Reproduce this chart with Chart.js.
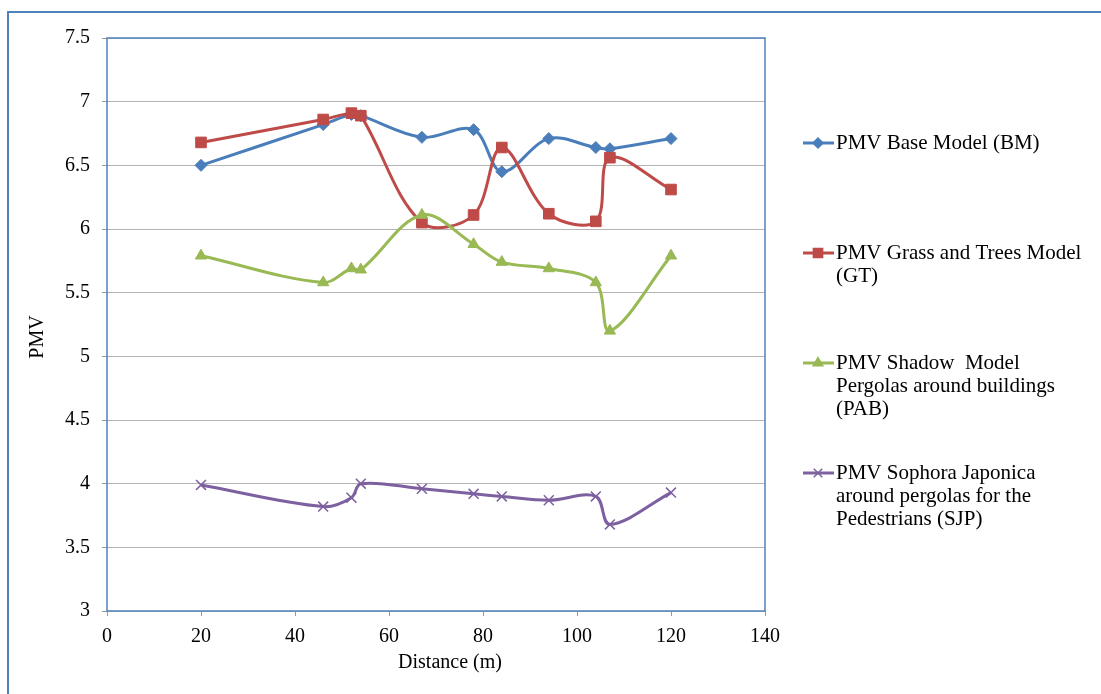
<!DOCTYPE html>
<html>
<head>
<meta charset="utf-8">
<script src="https://cdn.jsdelivr.net/npm/chart.js@4"></script>
<style>
  html, body { margin: 0; padding: 0; background: #fff; }
  #wrap { width: 1101px; height: 694px; position: relative; }
</style>
</head>
<body>
<div id="wrap"><canvas id="chart" width="1101" height="694"></canvas></div>
<script>
// Distances (m) along the path
const distance = [20, 46, 52, 54, 67, 78, 84, 94, 104, 107, 120]

// PMV per model
const pmvBM = [6.50, 6.82, 6.90, 6.89, 6.72, 6.78, 6.45, 6.71, 6.64, 6.63, 6.71]
const pmvGT = [6.68, 6.86, 6.91, 6.89, 6.05, 6.11, 6.64, 6.12, 6.06, 6.56, 6.31]
const pmvPAB = [5.79, 5.58, 5.69, 5.68, 6.11, 5.88, 5.74, 5.69, 5.58, 5.20, 5.79]
const pmvSJP = [3.99, 3.82, 3.89, 4.00, 3.96, 3.92, 3.90, 3.87, 3.90, 3.68, 3.93]

// Y tick labels as printed on the axis
const yTickLabels = ["3", "3.5", "4", "4.5", "5", "5.5", "6", "6.5", "7", "7.5"]

// Legend text, one array of lines per series
const legendLines = [
  ["PMV Base Model (BM)"],
  ["PMV Grass and Trees Model", "(GT)"],
  ["PMV Shadow  Model", "Pergolas around buildings", "(PAB)"],
  ["PMV Sophora Japonica", "around pergolas for the", "Pedestrians (SJP)"],
]
const legendY = [143, 253, 363, 473]

const FONT = "'Liberation Serif', 'Times New Roman', serif"
const COLORS = ["#4a7ebb", "#be4b48", "#98b954", "#7d60a0"]
const STYLES = ["rectRot", "rect", "triangle", "crossRot"]
const RADII = [6, 7.5, 6.5, 7]

function points(values) {
  return distance.map((x, i) => ({ x, y: values[i] }))
}

function makeSet(label, values, idx) {
  const cross = STYLES[idx] === "crossRot"
  return {
    label,
    data: points(values),
    borderColor: COLORS[idx],
    backgroundColor: COLORS[idx],
    borderWidth: 3,
    tension: 0.35,
    pointStyle: STYLES[idx],
    pointRadius: RADII[idx],
    pointBorderWidth: cross ? 1.5 : 1,
    pointBorderColor: COLORS[idx],
    pointBackgroundColor: COLORS[idx],
    order: 4 - idx,
  }
}

// Frame, plot border, axis titles and the multi-line legend
const decorations = {
  id: "decorations",
  beforeDraw(chart) {
    const ctx = chart.ctx
    ctx.save()
    ctx.fillStyle = "#fff"
    ctx.fillRect(0, 0, chart.width, chart.height)
    ctx.strokeStyle = "#4f81bd"
    ctx.lineWidth = 2
    ctx.strokeRect(8, 12, 1300, 900)
    ctx.restore()
  },
  afterDatasetsDraw(chart) {
    const { ctx, chartArea: a } = chart
    ctx.save()
    ctx.strokeStyle = "#4f81bd"
    ctx.lineWidth = 1.5
    ctx.strokeRect(a.left, a.top, a.right - a.left, a.bottom - a.top)

    ctx.fillStyle = "#000"
    ctx.font = `20px ${FONT}`
    ctx.textAlign = "center"
    ctx.textBaseline = "middle"
    ctx.fillText("Distance (m)", 450, 663)
    ctx.translate(38, 337)
    ctx.rotate(-Math.PI / 2)
    ctx.fillText("PMV", 0, 0)
    ctx.restore()

    ctx.save()
    ctx.font = `21px ${FONT}`
    ctx.textAlign = "left"
    ctx.textBaseline = "middle"
    legendLines.forEach((lines, i) => {
      const y = legendY[i]
      ctx.strokeStyle = COLORS[i]
      ctx.fillStyle = COLORS[i]
      ctx.lineWidth = 3
      ctx.beginPath()
      ctx.moveTo(803, y)
      ctx.lineTo(834, y)
      ctx.stroke()
      ctx.lineWidth = 1.5
      Chart.helpers.drawPoint(ctx, { pointStyle: STYLES[i], radius: RADII[i] - 1, borderWidth: 1.5 }, 818, y)
      ctx.fillStyle = "#000"
      lines.forEach((t, j) => ctx.fillText(t, 836, y + j * 23))
    })
    ctx.restore()
  },
}

new Chart(document.getElementById("chart"), {
  type: "line",
  data: {
    datasets: [
      makeSet("PMV Base Model (BM)", pmvBM, 0),
      makeSet("PMV Grass and Trees Model (GT)", pmvGT, 1),
      makeSet("PMV Shadow Model Pergolas around buildings (PAB)", pmvPAB, 2),
      makeSet("PMV Sophora Japonica around pergolas for the Pedestrians (SJP)", pmvSJP, 3),
    ],
  },
  options: {
    responsive: false,
    animation: false,
    layout: { padding: { top: 38, right: 336, left: 0, bottom: 0 } },
    plugins: {
      legend: { display: false },
      tooltip: { enabled: false },
    },
    scales: {
      x: {
        type: "linear",
        min: 0,
        max: 140,
        ticks: { stepSize: 20, color: "#000", padding: 9, font: { family: FONT, size: 20 } },
        grid: { color: "transparent", tickColor: "#999", tickLength: 5, drawTicks: true },
        border: { display: false },
        afterFit(scale) { scale.height = 83 },
      },
      y: {
        min: 3,
        max: 7.5,
        ticks: {
          stepSize: 0.5,
          color: "#000",
          padding: 12,
          font: { family: FONT, size: 20 },
          callback: (v, i) => yTickLabels[i],
        },
        grid: { color: "#b4b4b4", tickColor: "#999", tickLength: 5, drawTicks: true },
        border: { display: false },
        afterFit(scale) { scale.width = 107 },
      },
    },
  },
  plugins: [decorations],
})
</script>
</body>
</html>
